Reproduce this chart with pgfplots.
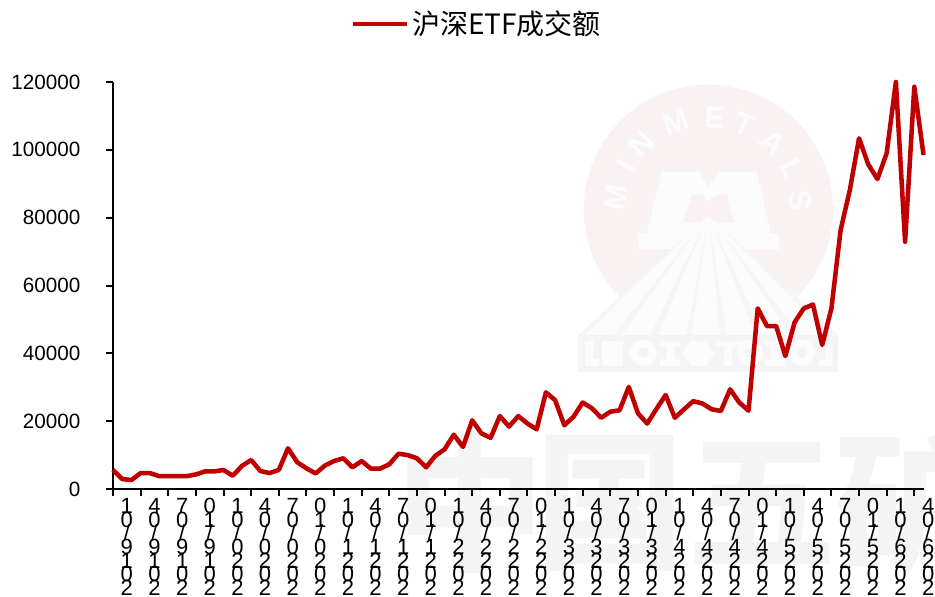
\documentclass[border=0pt]{standalone}
\usepackage{fontspec}
\usepackage{pgfplots}
\pgfplotsset{compat=1.18}
\setmainfont{Liberation Sans}
\newfontfamily\cjk{Noto Sans CJK SC}
\definecolor{linered}{HTML}{C00000}
\definecolor{wmpink}{HTML}{FAF2F2}
\definecolor{wmwhite}{HTML}{FCFCFC}
\definecolor{wmgrey}{HTML}{F4F4F4}
\definecolor{wmsep}{HTML}{F6F6F6}
\newcommand\rw[1]{\hbox to 0pt{\hss\smash{#1}\hss}\kern10.25pt}
\newcommand\lab[4]{\vbox{\offinterlineskip\rw{#1}\rw{#2}\rw{/}\rw{#3}\rw{#4}\rw{0}\hbox to 0pt{\hss\smash{2}\hss}}}
\pgfplotstableread{
i v
0 5600
1 2950
2 2650
3 4700
4 4700
5 3800
6 3800
7 3800
8 3800
9 4300
10 5200
11 5200
12 5600
13 3900
14 6800
15 8550
16 5300
17 4700
18 5600
19 12000
20 7900
21 6100
22 4600
23 6900
24 8250
25 9050
26 6400
27 8250
28 6000
29 6000
30 7300
31 10400
32 10000
33 9050
34 6400
35 9800
36 11700
37 16000
38 12400
39 20250
40 16400
41 15100
42 21500
43 18400
44 21500
45 19300
46 17600
47 28500
48 26200
49 18800
50 21300
51 25500
52 23800
53 21000
54 22800
55 23200
56 30100
57 22300
58 19300
59 23600
60 27700
61 21000
62 23500
63 25900
64 25200
65 23500
66 23000
67 29400
68 25500
69 23100
70 53250
71 48050
72 48050
73 39200
74 49100
75 53250
76 54400
77 42450
78 53250
79 76350
80 88150
81 103400
82 95700
83 91400
84 99000
85 120000
86 72900
87 118600
88 98500
}\etfdata
\begin{document}
\begin{tikzpicture}[x=0.75pt,y=-0.75pt]
\path[use as bounding box] (0,0) rectangle (935,596);
% watermark: large characters
\begin{scope}
\clip (0,0) rectangle (935,596);
\foreach \cx/\ch in {470/中,610/国,762/五,910/矿}{
  \node[text=wmgrey,inner sep=0pt,font=\cjk\bfseries\fontsize{112pt}{112pt}\selectfont] at (\cx,503) {\ch};
}
\end{scope}
% watermark: logo (coordinates in thirds of a pixel)
\begin{scope}[shift={(560,80)},x=0.25pt,y=-0.25pt]
\fill[wmpink] (445,388) circle (374);
\fill[wmwhite] (235,460)--(260,460)--(305,275)--(415,275)--(445,320)--(480,275)--(590,275)--(632,460)--(658,460)--(658,507)--(235,507)--cycle;
\fill[wmpink] (395,345)--(425,345)--(445,365)--(470,345)--(500,345)--(522,428)--(370,428)--cycle;
\fill[wmsep] (445,405)--(55,765)--(835,765)--cycle;
\foreach \b in {75,185,295,395,500,610,720}{
  \fill[wmwhite] (445,405)--(\b,765)--({\b+85},765)--cycle;
}
\fill[wmgrey] (55,765) rectangle (835,875);
\fill[wmwhite] (75,782)--(100,782)--(100,835)--(118,835)--(118,858)--(75,858)--cycle;
\fill[wmwhite] (125,782) rectangle (190,858);
\fill[wmwhite,even odd rule] (250,818) circle (40) (250,818) circle (16);
\fill[wmwhite] (300,782)--(360,782)--(360,800)--(342,800)--(342,838)--(360,838)--(360,858)--(300,858)--(300,838)--(318,838)--(318,800)--(300,800)--cycle;
\fill[wmwhite] (368,820)--(392,782)--(438,782)--(462,820)--(438,858)--(392,858)--cycle;
\fill[wmwhite] (470,782)--(540,782)--(540,800)--(517,800)--(517,858)--(493,858)--(493,800)--(470,800)--cycle;
\fill[wmwhite,even odd rule] (570,818) circle (40) (570,818) circle (16);
\fill[wmwhite] (615,782)--(675,782)--(675,800)--(657,800)--(657,838)--(675,838)--(675,858)--(615,858)--(615,838)--(633,838)--(633,800)--(615,800)--cycle;
\fill[wmwhite,even odd rule] (725,818) circle (40) (725,818) circle (16);
\fill[wmwhite] (775,782)--(818,782)--(818,858)--(775,858)--(775,838)--(795,838)--(795,800)--(775,800)--cycle;
\end{scope}
\foreach \a/\l in {-82/M,-61.4/I,-45.4/N,-20/M,4/E,23/T,44/A,64/L,84/S}{
  \node[text=wmwhite,inner sep=0pt,rotate=-\a,font=\bfseries\fontsize{23pt}{23pt}\selectfont] at ({708+93*sin(\a)},{210-93*cos(\a)}) {\l};
}
\begin{axis}[
  at={(84.75pt,-366.75pt)},anchor=south west,
  scale only axis,width=607.9pt,height=305.25pt,
  xmin=0,xmax=88,ymin=0,ymax=120000,
  clip=false,
  axis x line*=bottom,axis y line*=left,
  axis line style={black,line width=1.9pt,-},
  tick align=outside,
  major tick length=5.25pt,
  tick style={black,line width=1.5pt},
  scaled y ticks=false,
  ytick={0,20000,40000,60000,80000,100000,120000},
  yticklabels={0,20000,40000,60000,80000,100000,120000},
  yticklabel style={anchor=east,inner sep=0pt,xshift=-19pt,font=\fontsize{15.5pt}{15.5pt}\selectfont},
  xtick={0,3,...,87},
  xticklabels={\lab 1091,\lab 4091,\lab 7091,\lab 0191,
   \lab 1002,\lab 4002,\lab 7002,\lab 0102,
   \lab 1012,\lab 4012,\lab 7012,\lab 0112,
   \lab 1022,\lab 4022,\lab 7022,\lab 0122,
   \lab 1032,\lab 4032,\lab 7032,\lab 0132,
   \lab 1042,\lab 4042,\lab 7042,\lab 0142,
   \lab 1052,\lab 4052,\lab 7052,\lab 0152,
   \lab 1062,\lab 4062},
  xticklabel style={anchor=north,inner sep=0pt,xshift=10.4pt,yshift=-13pt,font=\fontsize{16.5pt}{16.5pt}\selectfont},
  legend style={at={(0.4530,1.1425)},anchor=center,draw=none,fill=none,
    font=\cjk\fontsize{21pt}{21pt}\selectfont,inner sep=0pt,outer sep=0pt},
  legend image code/.code={\path (0pt,0pt) -- (36pt,0pt);\draw[#1,overlay,line width=3pt,line cap=butt] (-4.5pt,0pt) -- (31.5pt,0pt);},
]
\addplot[linered,line width=3.4pt,line join=round] table[x=i,y=v] {\etfdata};
\addlegendentry{沪深ETF成交额}
\end{axis}
\end{tikzpicture}
\end{document}
